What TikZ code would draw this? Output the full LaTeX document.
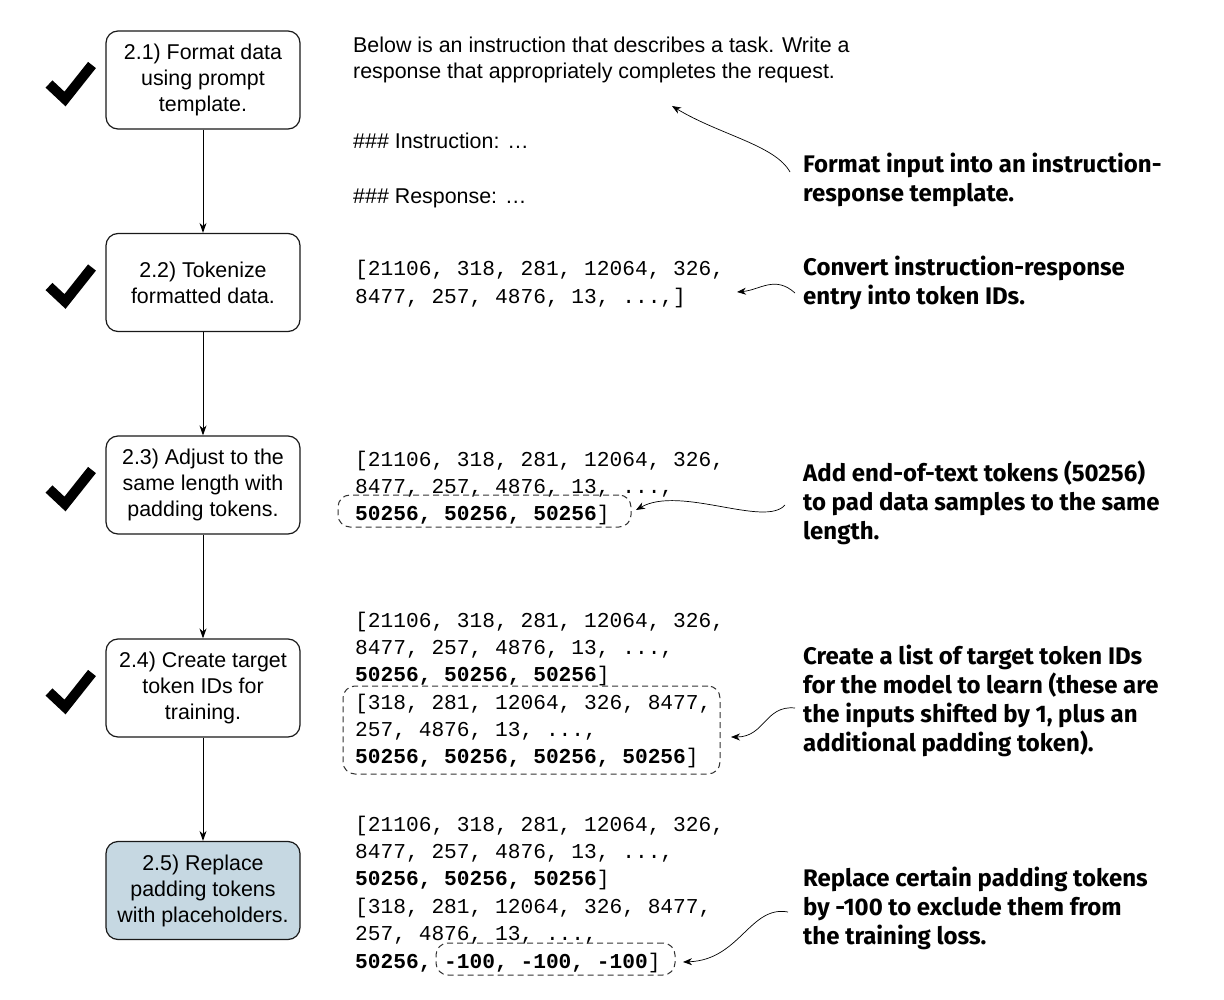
\documentclass[tikz,border=0pt]{standalone}
\usepackage{fontspec}
\setmainfont{Liberation Sans}
\newfontfamily\codefont{Liberation Mono}
\newfontfamily\annfont{Fira Sans}[FakeStretch=1.0]
\usetikzlibrary{arrows.meta}
\definecolor{boxblue}{RGB}{198,216,226}
\begin{document}
\begin{tikzpicture}[x=1pt,y=-1pt,
  stepbox/.style={draw=black!90, line width=1.2pt, rounded corners=12pt,
    minimum width=194pt, minimum height=98pt, inner sep=0pt, align=center,
    font=\fontsize{21.4}{26}\selectfont},
  flowarrow/.style={draw=black, line width=1pt, -{Stealth[length=10pt,width=7pt]}},
  curvearrow/.style={draw=black, line width=0.7pt, -{Stealth[length=9pt,width=7pt]}},
  checkmark/.style={draw=black, line width=10pt, line join=miter},
  codeline/.style={anchor=base west, inner sep=0pt, font=\codefont\fontsize{21.2}{27}\selectfont},
  plainline/.style={anchor=base west, inner sep=0pt, font=\fontsize{21.4}{26}\selectfont},
  anntext/.style={anchor=west, inner sep=0pt, align=left, font=\annfont\bfseries\fontsize{24}{29}\selectfont},
  dashbox/.style={draw=black!80, line width=1pt, dash pattern=on 6pt off 4pt, rounded corners=12pt, inner sep=0pt}
]
\useasboundingbox (0,0) rectangle (1224,1000);
\fill[white] (0,0) rectangle (1224,1000);

% step boxes
\node[stepbox] (b1) at (203,80) {2.1) Format data\\using prompt\\template.};
\node[stepbox] (b2) at (203,282.5) {2.2) Tokenize\\formatted data.};
\node[stepbox] (b3) at (203,485) {2.3) Adjust to the\\same length with\\padding tokens.};
\node[stepbox] (b4) at (203,688) {2.4) Create target\\token IDs for\\training.};
\node[stepbox, fill=boxblue] (b5) at (203,890.5) {2.5) Replace\\padding tokens\\with placeholders.};

\draw[flowarrow] (b1.south) -- (b2.north);
\draw[flowarrow] (b2.south) -- (b3.north);
\draw[flowarrow] (b3.south) -- (b4.north);
\draw[flowarrow] (b4.south) -- (b5.north);

% check marks
\foreach \c in {80,282.5,485,688}{
  \draw[checkmark] (49,\c+4) -- (65,\c+19) -- (92,\c-15);
}

% template text
\node[plainline] (t1) at (353,53) {Below is an instruction that describes a task. Write a};
\node[plainline] (t2) at (353,79) {response that appropriately completes the request.};
\node[plainline] (t3) at (353,149) {\#\#\# Instruction: …};
\node[plainline] (t4) at (353,204) {\#\#\# Response: …};

% code for 2.2
\node[codeline] (c21) at (355,276) {[21106, 318, 281, 12064, 326,};
\node[codeline] (c22) at (355,304) {8477, 257, 4876, 13, ...,]};

% code for 2.3
\node[codeline] (c31) at (355,466) {[21106, 318, 281, 12064, 326,};
\node[codeline] (c32) at (355,493) {8477, 257, 4876, 13, ...,};
\node[codeline] (c33) at (355,520) {\bfseries 50256, 50256, 50256\mdseries]};
\node[dashbox, minimum width=293pt, minimum height=32pt] (d3) at (484.5,511) {};

% code for 2.4
\node[codeline] (c41) at (355,627) {[21106, 318, 281, 12064, 326,};
\node[codeline] (c42) at (355,654) {8477, 257, 4876, 13, ...,};
\node[codeline] (c43) at (355,681) {\bfseries 50256, 50256, 50256\mdseries]};
\node[codeline] (c44) at (355,709) {[318, 281, 12064, 326, 8477,};
\node[codeline] (c45) at (355,736) {257, 4876, 13, ...,};
\node[codeline] (c46) at (355,763) {\bfseries 50256, 50256, 50256, 50256\mdseries]};
\node[dashbox, minimum width=377pt, minimum height=88pt] (d4) at (531.5,730) {};

% code for 2.5
\node[codeline] (c51) at (355,831) {[21106, 318, 281, 12064, 326,};
\node[codeline] (c52) at (355,858) {8477, 257, 4876, 13, ...,};
\node[codeline] (c53) at (355,885) {\bfseries 50256, 50256, 50256\mdseries]};
\node[codeline] (c54) at (355,913) {[318, 281, 12064, 326, 8477,};
\node[codeline] (c55) at (355,940) {257, 4876, 13, ...,};
\node[codeline] (c56) at (355,968) {\bfseries 50256, -100, -100, -100\mdseries]};
\node[dashbox, minimum width=239pt, minimum height=32pt] (d5) at (555.5,959) {};

% annotations
\node[anntext] (a1) at (803,180) {Format input into an instruction-\\response template.};
\node[anntext] (a2) at (803,283) {Convert instruction-response\\entry into token IDs.};
\node[anntext] (a3) at (803,503) {Add end-of-text tokens (50256)\\to pad data samples to the same\\length.};
\node[anntext] (a4) at (803,701) {Create a list of target token IDs\\for the model to learn (these are\\the inputs shifted by 1, plus an\\additional padding token).};
\node[anntext] (a5) at (803,908) {Replace certain padding tokens\\by -100 to exclude them from\\the training loss.};

% curved arrows
\coordinate (s1) at (790,172);  \coordinate (e1) at (672,106);
\coordinate (s2) at (795,293);  \coordinate (e2) at (737,292);
\coordinate (s3) at (785,505);  \coordinate (e3) at (636,510);
\coordinate (s4) at (795,708);  \coordinate (e4) at (731,737);
\coordinate (s5) at (788,912);  \coordinate (e5) at (683,962);
\draw[curvearrow] (s1) .. controls (775,145) and (720,135) .. (e1);
\draw[curvearrow] (s2) .. controls (775,275) and (760,290) .. (e2);
\draw[curvearrow] (s3) .. controls (765,528) and (680,485) .. (e3);
\draw[curvearrow] (s4) .. controls (765,705) and (765,737) .. (e4);
\draw[curvearrow] (s5) .. controls (750,905) and (740,960) .. (e5);
\end{tikzpicture}
\end{document}
